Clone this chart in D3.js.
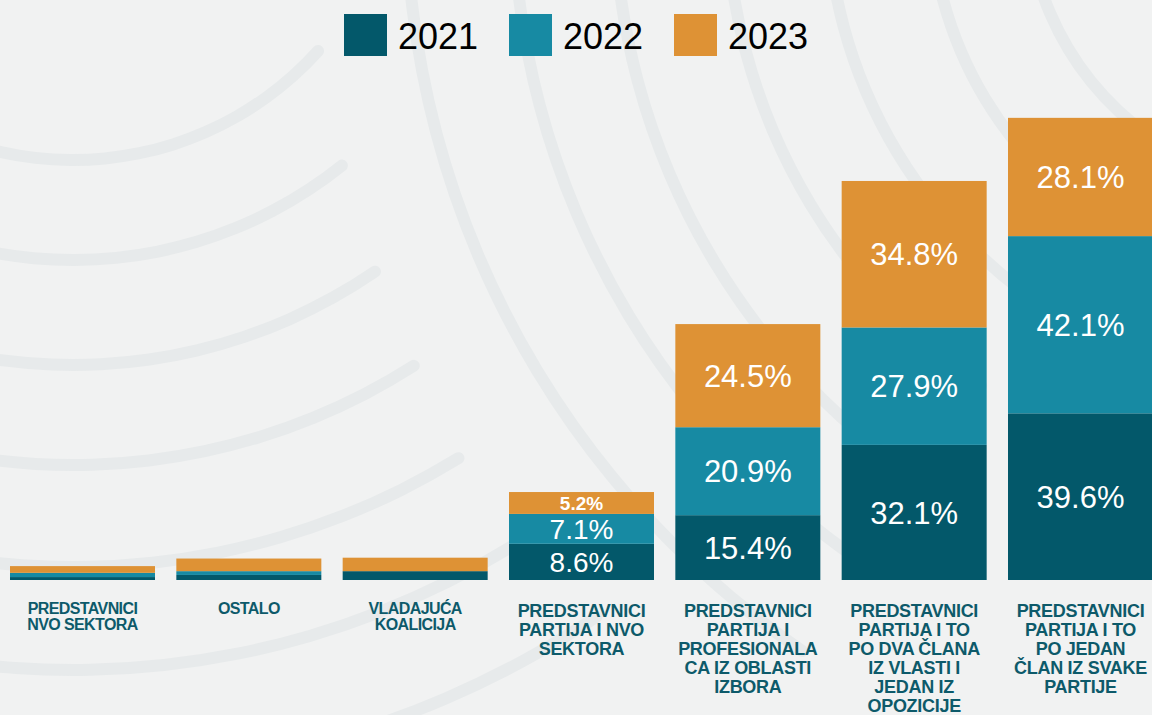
<!DOCTYPE html>
<html><head><meta charset="utf-8">
<script src="https://cdn.jsdelivr.net/npm/d3@7"></script>
<style>html,body{margin:0;padding:0;background:#f1f2f2;overflow:hidden} svg{display:block}</style>
</head><body>
<script>
// ---- data ----
const categories = [
  "PREDSTAVNICI NVO SEKTORA",
  "OSTALO",
  "VLADAJUĆA KOALICIJA",
  "PREDSTAVNICI PARTIJA I NVO SEKTORA",
  "PREDSTAVNICI PARTIJA I PROFESIONALACA IZ OBLASTI IZBORA",
  "PREDSTAVNICI PARTIJA I TO PO DVA ČLANA IZ VLASTI I JEDAN IZ OPOZICIJE",
  "PREDSTAVNICI PARTIJA I TO PO JEDAN ČLAN IZ SVAKE PARTIJE"
];
const categoryLines = [
  ["PREDSTAVNICI","NVO SEKTORA"],
  ["OSTALO"],
  ["VLADAJUĆA","KOALICIJA"],
  ["PREDSTAVNICI","PARTIJA I NVO","SEKTORA"],
  ["PREDSTAVNICI","PARTIJA I","PROFESIONALA","CA IZ OBLASTI","IZBORA"],
  ["PREDSTAVNICI","PARTIJA I TO","PO DVA ČLANA","IZ VLASTI I","JEDAN IZ","OPOZICIJE"],
  ["PREDSTAVNICI","PARTIJA I TO","PO JEDAN","ČLAN IZ SVAKE","PARTIJE"]
];
const years = ["2021","2022","2023"];
const values2021 = [0.7, 1.2, 2.1, 8.6, 15.4, 32.1, 39.6];
const values2022 = [1.0, 0.9, 0.0, 7.1, 20.9, 27.9, 42.1];
const values2023 = [1.6, 3.0, 3.2, 5.2, 24.5, 34.8, 28.1];

// ---- setup ----
const W = 1152, H = 715;
const colors = {"2021":"#03586a","2022":"#178aa3","2023":"#de9235"};
const rows = categories.map((c,i)=>({cat:c, "2021":values2021[i], "2022":values2022[i], "2023":values2023[i]}));

const svg = d3.select("body").append("svg").attr("width",W).attr("height",H);
svg.append("rect").attr("width",W).attr("height",H).attr("fill","#f1f2f2");

// decorative background arcs
const deg = Math.PI/180;
const deco = svg.append("g").attr("fill","#e7eaeb");
const arcGen = d3.arc().cornerRadius(6);
const leftR = [330, 430, 535, 635, 737, 840, 945];
const leftEnd = [41, 50.5, 55, 57, 58, 58, 56];
leftR.forEach((r,i)=>{
  deco.append("path").attr("transform","translate(73,-170)")
    .attr("d", arcGen({innerRadius:r-6, outerRadius:r+6, startAngle:(leftEnd[i]+90)*deg, endAngle:(140+90)*deg}));
});
const rightR = [289, 386, 489, 590, 702, 803, 910];
rightR.forEach((r,i)=>{
  deco.append("path").attr("transform","translate(1316,-100)")
    .attr("d", arcGen({innerRadius:r-6, outerRadius:r+6, startAngle:(124+90)*deg, endAngle:(190+90)*deg}));
});

// scales
const x = d3.scaleBand().domain(categories).range([10, 1153]).paddingInner(0.1283).paddingOuter(0);
const y = d3.scaleLinear().domain([0, 110]).range([580, 117]);

const stack = d3.stack().keys(years)(rows);

const layers = svg.append("g").selectAll("g").data(stack).join("g")
  .attr("fill", d => colors[d.key]);
layers.selectAll("rect").data(d => d.map(v => ({v, key:d.key}))).join("rect")
  .attr("x", d => x(d.v.data.cat))
  .attr("width", x.bandwidth())
  .attr("y", d => y(d.v[1]))
  .attr("height", d => y(d.v[0]) - y(d.v[1]));

// segment value labels
const labG = svg.append("g").attr("fill","#ffffff").attr("text-anchor","middle")
  .style("font-family","'Liberation Sans', Arial, sans-serif");
stack.forEach(layer => {
  layer.forEach(v => {
    const val = v[1]-v[0];
    if (val < 5) return;
    const h = y(v[0]) - y(v[1]);
    let fs = 31, fw = "normal";
    if (h < 25) { fs = 19; fw = "bold"; }
    else if (h < 40) { fs = 28; }
    const cy = (y(v[0]) + y(v[1]))/2;
    labG.append("text")
      .attr("x", x(v.data.cat) + x.bandwidth()/2)
      .attr("y", cy + fs*0.358)
      .style("font-size", fs+"px").style("font-weight", fw)
      .text(val.toFixed(1) + "%");
  });
});

// category labels (axis)
const axisG = svg.append("g").attr("transform","translate(0,580)")
  .call(d3.axisBottom(x).tickSize(0).tickFormat(""));
axisG.select(".domain").remove();
axisG.selectAll(".tick").each(function(d,i){
  const small = i < 3;
  const fs = small ? 16 : 18;
  const lh = small ? 15.5 : 19;
  const t = d3.select(this).append("text")
    .attr("fill","#0d5a6a").attr("text-anchor","middle")
    .style("font-family","'Liberation Sans', Arial, sans-serif")
    .style("font-weight","bold").style("font-size", fs+"px")
    .style("letter-spacing", small ? "-0.6px" : "-0.3px");
  categoryLines[i].forEach((ln,j)=>{
    t.append("tspan").attr("x",0).attr("y", (small ? 34 : 37) + j*lh).text(ln);
  });
});

// legend
const legend = svg.append("g").attr("transform","translate(344,14)");
years.forEach((yr,i)=>{
  const g = legend.append("g").attr("transform",`translate(${i*165},0)`);
  g.append("rect").attr("width",43).attr("height",42).attr("fill",colors[yr]);
  g.append("text").attr("x",54).attr("y",35).attr("fill","#000")
    .style("font-family","'Liberation Sans', Arial, sans-serif").style("font-size","36px")
    .text(yr);
});
</script>
</body></html>
